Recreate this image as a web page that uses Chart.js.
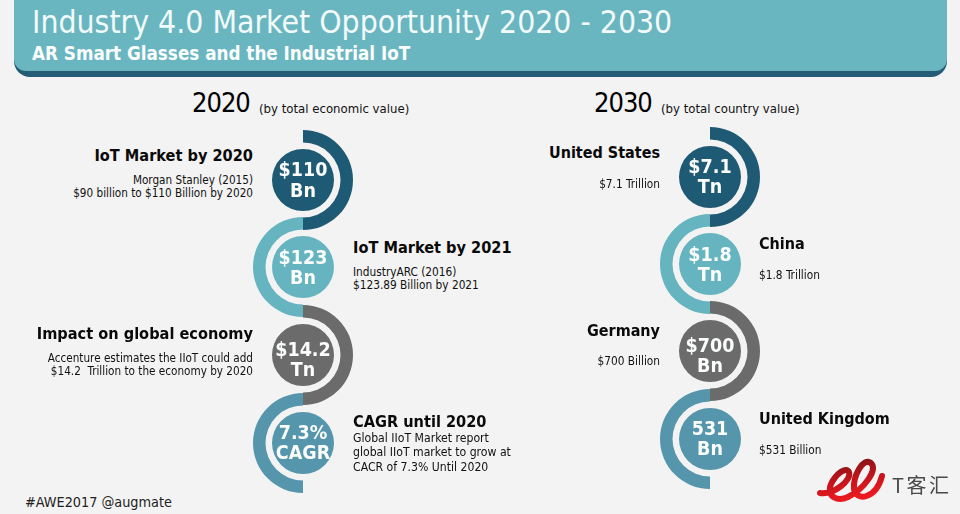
<!DOCTYPE html>
<html><head><meta charset="utf-8">
<script src="https://cdn.jsdelivr.net/npm/chart.js@4/dist/chart.umd.min.js"></script>
<style>
html,body{margin:0;padding:0;background:#f3f3f3;width:960px;height:514px;overflow:hidden}
#stage{position:relative;width:960px;height:514px;overflow:hidden;font-family:"DejaVu Sans Condensed","DejaVu Sans",sans-serif;color:#111}
#hdrDark{position:absolute;left:14px;top:-20px;width:933px;height:97px;background:#235c74;border-radius:0 0 16px 16px}
#hdr{position:absolute;left:14px;top:-20px;width:933px;height:91px;background:#69b6c1;border-radius:0 0 12px 12px}
.t{position:absolute;white-space:pre;margin:0}
canvas{position:absolute}
.ring{position:absolute}
</style></head><body><div id="stage"><div id="hdrDark"></div><div id="hdr"></div></div>
<script>
// ---- content ----
const headerTitle = "Industry 4.0 Market Opportunity 2020 - 2030";
const headerSubtitle = "AR Smart Glasses and the Industrial IoT";
const columnYears = ["2020", "2030"];
const columnNotes = ["(by total economic value)", "(by total country value)"];
const footerTag = "#AWE2017 @augmate";
const logoText = "T客汇";

const leftValues = ["$110", "$123", "$14.2", "7.3%"];
const leftUnits = ["Bn", "Bn", "Tn", "CAGR"];
const leftHeads = ["IoT Market by 2020", "IoT Market by 2021", "Impact on global economy", "CAGR until 2020"];
const leftNotes = [
  ["Morgan Stanley (2015)", "$90 billion to $110 Billion by 2020"],
  ["IndustryARC (2016)", "$123.89 Billion by 2021"],
  ["Accenture estimates the IIoT could add", "$14.2  Trillion to the economy by 2020"],
  ["Global IIoT Market report", "global IIoT market to grow at", "CACR of 7.3% Until 2020"]
];
const rightValues = ["$7.1", "$1.8", "$700", "531"];
const rightUnits = ["Tn", "Tn", "Bn", "Bn"];
const rightHeads = ["United States", "China", "Germany", "United Kingdom"];
const rightNotes = [["$7.1 Trillion"], ["$1.8 Trillion"], ["$700 Billion"], ["$531 Billion"]];

const ringShare = [1];      // each half ring is one whole slice
const discShare = [1];      // each disc is one whole slice

// ---- styling and layout (separate from the content) ----
const palette = ["#1f5a74", "#65b4c0", "#6b6b6b", "#5596ad"];
const ringCy = [[180, 267, 355, 443], [176.5, 264, 351, 439]];
const columnCx = [303, 710];
const textCy = [180.5, 268, 360, 443];
const textCyR = [177, 265, 356, 439];
const leftNoteSize = [11.65, 11.75, 11.65, 12.15];

const stage = document.getElementById("stage");
function put(txt, o) {
  const d = document.createElement("div");
  d.className = "t"; d.textContent = txt;
  const h = o.lh || 20;
  const lines = txt.split("\n").length;
  d.style.cssText += `top:${o.cy - h * lines / 2}px;line-height:${h}px;font-size:${o.size}px;` +
    `font-weight:${o.bold ? 700 : 400};color:${o.color || "#111"};` +
    (o.family ? `font-family:${o.family};` : "") + (o.ls ? `letter-spacing:${o.ls}px;` : "");
  if (o.right !== undefined) { d.style.right = (960 - o.right) + "px"; }
  else if (o.center !== undefined) { d.style.left = (o.center - 50) + "px"; d.style.width = "100px"; d.style.textAlign = "center"; }
  else d.style.left = o.left + "px";
  stage.appendChild(d);
}

function node(col, i, value, unit, tcy) {
  const cv = document.createElement("canvas");
  const box = document.createElement("div");
  box.className = "ring";
  const cx = columnCx[col], cy = ringCy[col][i];
  box.style.cssText = `left:${cx - 50}px;top:${Math.round(cy - 50)}px;width:100px;height:100px;`;
  box.appendChild(cv); stage.appendChild(box);
  const color = palette[i];
  new Chart(cv, {
    type: "doughnut",
    data: { datasets: [
      { data: ringShare, backgroundColor: color, weight: 12.5, rotation: i % 2 ? 180 : 0, circumference: 180, borderWidth: 0 },
      { data: discShare, backgroundColor: "rgba(0,0,0,0)", weight: 6.5, borderWidth: 0 },
      { data: discShare, backgroundColor: color, weight: 31, borderWidth: 0 }
    ] },
    options: {
      responsive: true, maintainAspectRatio: false, animation: false, cutout: 0,
      events: [], layout: { padding: 0 },
      plugins: { legend: { display: false }, tooltip: { enabled: false } }
    }
  });
  put(value + "\n" + unit, { center: cx, cy: tcy, size: 19.5, lh: 20.5, bold: true, color: "#fbfdfd" });
}

// header
put(headerTitle, { left: 32, cy: 22, size: 31.65, lh: 40, color: "#f2fafa" });
put(headerSubtitle, { left: 32, cy: 54, size: 18.7, lh: 24, bold: true, color: "#fbfdfd" });

// column titles
put(columnYears[0], { left: 192, cy: 103, size: 27, lh: 34, ls: -1, color: "#000" });
put(columnNotes[0], { left: 259, cy: 108.5, size: 13.05, lh: 16 });
put(columnYears[1], { left: 594, cy: 103, size: 27, lh: 34, ls: -1, color: "#000" });
put(columnNotes[1], { left: 661, cy: 108.5, size: 13.05, lh: 16 });

// nodes
leftValues.forEach((v, i) => node(0, i, v, leftUnits[i], textCy[i]));
rightValues.forEach((v, i) => node(1, i, v, rightUnits[i], textCyR[i]));

// left column captions
const leftHeadCy = [156, 247.5, 333.5, 421.5];
const leftNoteCy = [[180, 193], [272, 285], [358, 371], [438, 452, 467]];
leftHeads.forEach((h, i) => {
  const o = i % 2 ? { left: 353 } : { right: 253 };
  put(h, { ...o, cy: leftHeadCy[i], size: 16.2, bold: true, color: "#0a0a0a" });
  leftNotes[i].forEach((n, j) => put(n, { ...o, cy: leftNoteCy[i][j], size: leftNoteSize[i], lh: 13 }));
});
// right column captions
const rightHeadCy = [153, 244, 331, 419];
const rightNoteCy = [184, 275, 361, 450];
rightHeads.forEach((h, i) => {
  const o = i % 2 ? { left: 759 } : { right: 660 };
  put(h, { ...o, cy: rightHeadCy[i], size: 16, bold: true, color: "#0a0a0a" });
  rightNotes[i].forEach(n => put(n, { ...o, cy: rightNoteCy[i], size: 11.75, lh: 13 }));
});

put(footerTag, { left: 25, cy: 502, size: 14.3, color: "#222" });

// logo
const logo = document.createElement("div");
logo.style.cssText = "position:absolute;left:0;top:0;width:960px;height:514px;pointer-events:none";
logo.innerHTML = `<svg width="960" height="514" style="position:absolute;left:0;top:0">
<defs><linearGradient id="lg" x1="0.2" y1="0" x2="0.5" y2="1"><stop offset="0" stop-color="#7e1418"/><stop offset="0.55" stop-color="#c8141c"/><stop offset="1" stop-color="#ec1a20"/></linearGradient></defs>
<path d="M820 493 C834 495 852 480 849 472 C846 466 836 474 831 484 C826 497 838 502 848 497 C864 489 878 470 871 463 C863 457 853 476 854 489 C856 502 876 499 882 476" fill="none" stroke="url(#lg)" stroke-width="6" stroke-linecap="round"/></svg>`;
stage.appendChild(logo);
put(logoText, { left: 892, cy: 485, size: 20, lh: 26, ls: 2.5, color: "#4a4a4a", family: '"Noto Sans CJK SC"' });
</script></body></html>
